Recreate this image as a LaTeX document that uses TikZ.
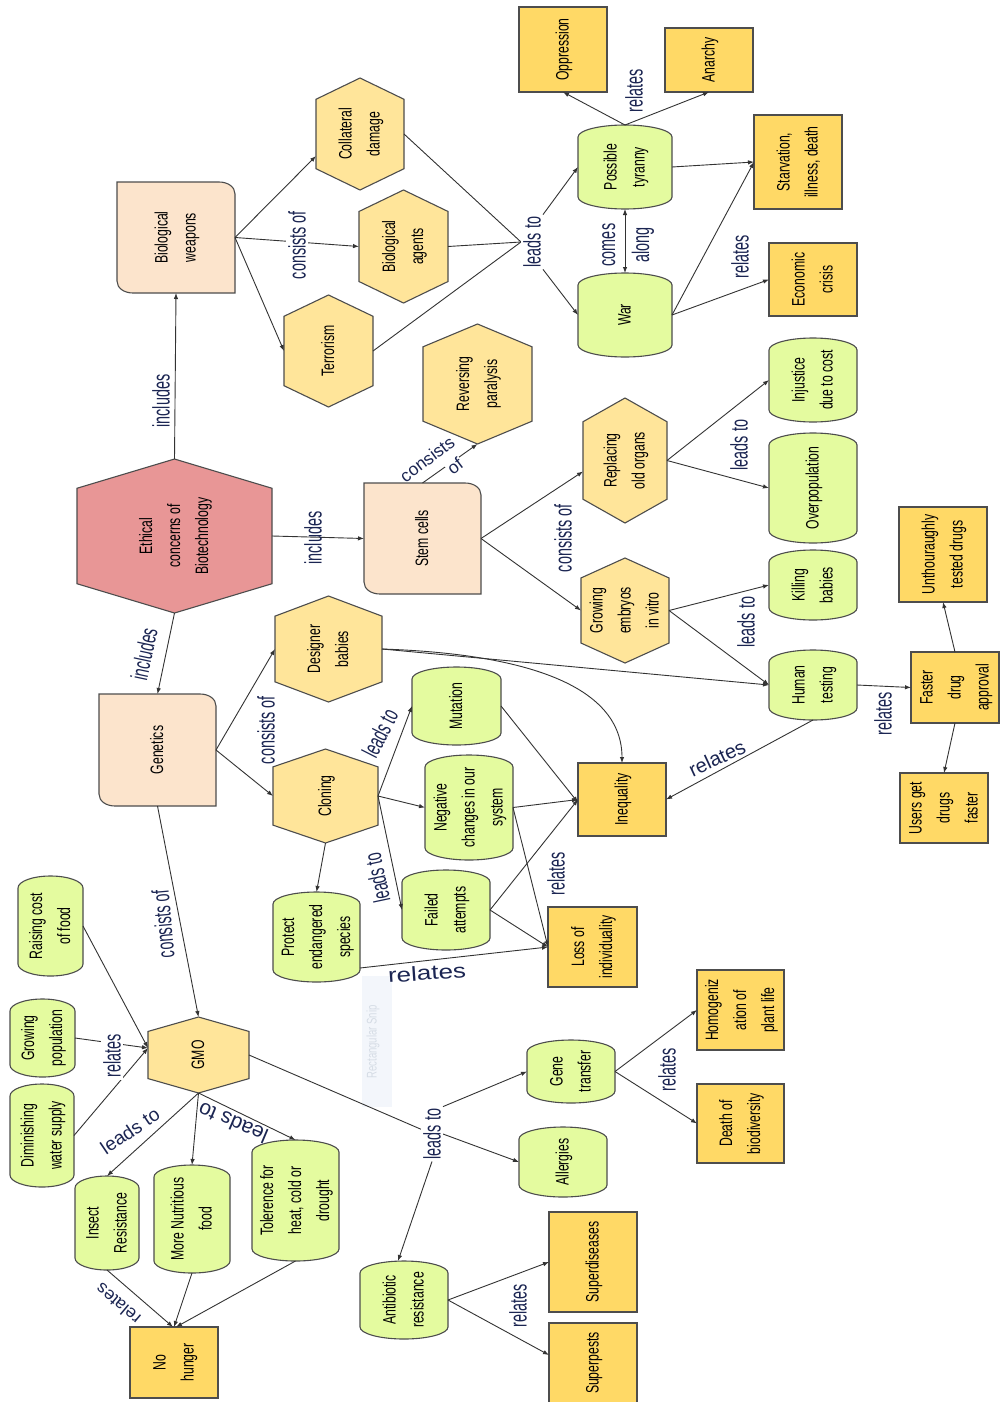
\documentclass[tikz,border=0pt]{standalone}
\usepackage{fontspec}
\usepackage{graphicx}
\usetikzlibrary{arrows.meta,calc}

\newfontfamily\nfont[FakeStretch=0.68]{Liberation Sans}
\newfontfamily\lfont[FakeStretch=0.6]{Liberation Sans}
\newfontfamily\afont{Liberation Sans}

\definecolor{peach}{HTML}{FCE4CC}
\definecolor{pinkc}{HTML}{E89696}
\definecolor{hexc}{HTML}{FFE59A}
\definecolor{goldc}{HTML}{FFD966}
\definecolor{greenc}{HTML}{E4FB9F}
\definecolor{linec}{HTML}{333333}
\definecolor{edgec}{HTML}{4D4D4D}
\definecolor{labc}{HTML}{1B2552}
\definecolor{snipc}{HTML}{F3F6FB}
\definecolor{snipt}{HTML}{D5DCE5}

\pgfdeclarelayer{bg}
\pgfdeclarelayer{lines}
\pgfsetlayers{bg,lines,main}

% vertical (bottom-to-top) multi-line text
\newcommand\vtext[1]{\rotatebox{90}{\begin{tabular}{@{}c@{}}#1\end{tabular}}}

% hexagon: [fill] name cx cy half-width half-height text
\newcommand\hexnode[7][hexc]{%
  \node[nbox, minimum width={2*#5}, minimum height={2*#6}] (#2) at (#3,#4) {\vtext{#7}};
  \pgfmathsetmacro\xa{#3-#5}\pgfmathsetmacro\xb{#3+#5}%
  \pgfmathsetmacro\ya{#4-#6}\pgfmathsetmacro\yb{#4+#6}%
  \pgfmathsetmacro\yc{#4-0.62*#6}\pgfmathsetmacro\yd{#4+0.62*#6}%
  \begin{pgfonlayer}{bg}
  \filldraw[shapeline, fill=#1] (#3,\ya) -- (\xb,\yc) -- (\xb,\yd) -- (#3,\yb) -- (\xa,\yd) -- (\xa,\yc) -- cycle;
  \end{pgfonlayer}}

% box with two rounded corners: name cx cy hw hh text
\newcommand\docnode[6]{%
  \node[nbox, minimum width={2*#4}, minimum height={2*#5}] (#1) at (#2,#3) {\vtext{#6}};
  \pgfmathsetmacro\xa{#2-#4}\pgfmathsetmacro\xb{#2+#4}%
  \pgfmathsetmacro\ya{#3-#5}\pgfmathsetmacro\yb{#3+#5}%
  \begin{pgfonlayer}{bg}
  \filldraw[shapeline, fill=peach] (\xa,\ya) -- ({\xb-16},\ya)
    .. controls ({\xb-7},\ya) and (\xb,{\ya+5}) .. (\xb,{\ya+12}) -- (\xb,\yb) -- ({\xa+16},\yb)
    .. controls ({\xa+7},\yb) and (\xa,{\yb-5}) .. (\xa,{\yb-12}) -- cycle;
  \end{pgfonlayer}}

% plain box: name cx cy hw hh text
\newcommand\goldnode[6]{%
  \node[nbox, minimum width={2*#4}, minimum height={2*#5}] (#1) at (#2,#3) {\vtext{#6}};
  \begin{pgfonlayer}{bg}
  \filldraw[shapeline, fill=goldc] (#1.north west) rectangle (#1.south east);
  \end{pgfonlayer}}

% box with arched ends: name cx cy hw hh text
\newcommand\greennode[6]{%
  \node[nbox, minimum width={2*#4}, minimum height={2*#5}] (#1) at (#2,#3) {\vtext{#6}};
  \pgfmathsetmacro\xa{#2-#4}\pgfmathsetmacro\xb{#2+#4}%
  \pgfmathsetmacro\ya{#3-#5}\pgfmathsetmacro\yb{#3+#5}%
  \pgfmathsetmacro\kx{0.5523*#4}%
  \begin{pgfonlayer}{bg}
  \filldraw[shapeline, fill=greenc]
    (\xa,{\ya+12}) -- (\xa,{\yb-12})
    .. controls (\xa,{\yb-5.4}) and ({#2-\kx},\yb) .. (#2,\yb)
    .. controls ({#2+\kx},\yb) and (\xb,{\yb-5.4}) .. (\xb,{\yb-12})
    -- (\xb,{\ya+12})
    .. controls (\xb,{\ya+5.4}) and ({#2+\kx},\ya) .. (#2,\ya)
    .. controls ({#2-\kx},\ya) and (\xa,{\ya+5.4}) .. (\xa,{\ya+12}) -- cycle;
  \end{pgfonlayer}}

\begin{document}
\begin{tikzpicture}[x=1pt, y=-1pt,
  >={Latex[length=6pt,width=4.5pt]},
  nbox/.style={inner sep=0pt, outer sep=0pt, text=black, font=\nfont\fontsize{18}{28}\selectfont},
  shapeline/.style={draw=edgec, line width=1.1pt},
  conn/.style={draw=linec, line width=0.9pt},
  arr/.style={conn, ->},
  labv/.style={text=labc, inner sep=2pt, font=\lfont\fontsize{24}{30}\selectfont},
  alab/.style={text=labc, inner sep=1pt}]

\useasboundingbox (0,0) rectangle (1001,1402);
\begin{pgfonlayer}{bg}
\fill[white] (0,0) rectangle (1001,1402);
% faint screen-capture remnant
\fill[snipc] (362,976) rectangle (392,1107);
\end{pgfonlayer}
\node[text=snipt, font=\nfont\fontsize{14}{16}\selectfont, inner sep=0pt] (snip) at (373,1042) {\rotatebox{90}{Rectangular Snip}};

% ---------- concepts ----------
\hexnode[pinkc]{eth}{174.5}{536}{97.5}{77}{Ethical\\concerns of\\Biotechnology}

\docnode{bw}{176}{237.5}{59}{55.5}{Biological\\weapons}
\docnode{stem}{422.5}{538.5}{58.5}{55.5}{Stem cells}
\docnode{gen}{157.5}{750}{58.5}{56}{Genetics}

\hexnode{coll}{360}{134}{44}{56}{Collateral\\damage}
\hexnode{bioag}{403.5}{246.5}{44.5}{56.5}{Biological\\agents}
\hexnode{terr}{328.5}{351}{44.5}{56}{Terrorism}
\hexnode{revp}{477.5}{384}{54.5}{60}{Reversing\\paralysis}
\hexnode{organs}{625}{460.5}{42}{62.5}{Replacing\\old organs}
\hexnode{embryo}{625}{610.5}{44}{52.5}{Growing\\embryos\\in vitro}
\hexnode{design}{328.5}{649}{53.5}{53}{Designer\\babies}
\hexnode{clon}{325.5}{796}{52.5}{47}{Cloning}
\hexnode{gmo}{198.5}{1055}{50.5}{38}{GMO}

\goldnode{opp}{563}{49.5}{44}{42.5}{Oppression}
\goldnode{anar}{709}{60}{44}{32}{Anarchy}
\goldnode{starv}{798}{162}{44}{47}{Starvation,\\illness, death}
\goldnode{econ}{813}{279.5}{44}{36.5}{Economic\\crisis}
\goldnode{untest}{943}{554.5}{44}{47.5}{Unthouraughly\\tested drugs}
\goldnode{fda}{955}{687.5}{44}{35.5}{Faster\\drug\\approval}
\goldnode{users}{944}{808}{44}{35}{Users get\\drugs\\faster}
\goldnode{ineq}{622}{799.5}{44}{36.5}{Inequality}
\goldnode{loss}{592.5}{947}{44.5}{40}{Loss of\\individuality}
\goldnode{homog}{740.5}{1010}{43.5}{40}{Homogeniz\\ation of\\plant life}
\goldnode{death}{740.5}{1123.5}{43.5}{39.5}{Death of\\biodiversity}
\goldnode{superd}{593}{1262}{44}{50}{Superdiseases}
\goldnode{nohun}{174}{1362.5}{44}{35.5}{No\\hunger}
% box running off the lower edge
\node[nbox, minimum width=88, minimum height=80] (superp) at (593,1363) {\vtext{Superpests}};
\begin{pgfonlayer}{bg}
\fill[goldc] (549,1323) rectangle (637,1402);
\draw[shapeline] (549,1402) -- (549,1323) -- (637,1323) -- (637,1402);
\end{pgfonlayer}

\greennode{tyr}{625}{167}{47}{42}{Possible\\tyranny}
\greennode{war}{625}{315}{47}{42}{War}
\greennode{injust}{813}{380}{44}{42}{Injustice\\due to cost}
\greennode{overpop}{813}{488}{44}{55}{Overpopulation}
\greennode{kill}{813}{585}{44}{35}{Killing\\babies}
\greennode{human}{813}{685}{44}{35}{Human\\testing}
\greennode{mut}{456.5}{706}{44.5}{39}{Mutation}
\greennode{neg}{469}{807.5}{44}{52.5}{Negative\\changes in our\\system}
\greennode{fail}{446}{910}{44}{40}{Failed\\attempts}
\greennode{prot}{316.5}{937}{43.5}{45}{Protect\\endangered\\species}
\greennode{raise}{50.5}{926}{32.5}{50}{Raising cost\\of food}
\greennode{grow}{42.5}{1038}{32.5}{39}{Growing\\population}
\greennode{dimin}{42}{1135.5}{32}{51.5}{Diminishing\\water supply}
\greennode{insect}{107}{1223}{32}{47}{Insect\\Resistance}
\greennode{nutri}{192}{1219}{38}{54}{More Nutritious\\food}
\greennode{toler}{295.5}{1200.5}{43.5}{60.5}{Tolerence for\\heat, cold or\\drought}
\greennode{antib}{404}{1300}{44}{39}{Antibiotic\\resistance}
\greennode{gene}{571}{1071.5}{44}{31.5}{Gene\\transfer}
\greennode{allerg}{563}{1162}{44}{35}{Allergies}

% ---------- linking phrases ----------
\node[labv] (l1) at (161,401) {\rotatebox{90}{includes}};
\node[labv, fill=white] (l2) at (297,245) {\rotatebox{90}{consists of}};
\node[labv, fill=white] (lt1) at (532,242) {\rotatebox{90}{leads to}};
\node[labv] (l4) at (634,91) {\rotatebox{90}{relates}};
\node[labv] (l5) at (626,245) {\rotatebox{90}{\begin{tabular}{@{}c@{}}comes\\[4pt]along\end{tabular}}};
\node[labv] (l6) at (740,257) {\rotatebox{90}{relates}};
\node[labv] (l7) at (313,538) {\rotatebox{90}{includes}};
\node[labv] (l8) at (563,538) {\rotatebox{90}{consists of}};
\node[labv] (l9) at (739,445) {\rotatebox{90}{leads to}};
\node[labv] (l10) at (746,622) {\rotatebox{90}{leads to}};
\node[labv] (l11) at (883,714) {\rotatebox{90}{relates}};
\node[labv] (l12) at (266,730) {\rotatebox{90}{consists of}};
\node[labv] (l13) at (556,874) {\rotatebox{90}{relates}};
\node[labv, fill=white] (l14) at (112,1056) {\rotatebox{90}{relates}};
\node[labv, fill=white] (ltg) at (432,1134) {\rotatebox{90}{leads to}};
\node[labv] (l16) at (667,1070) {\rotatebox{90}{relates}};
\node[labv] (l17) at (518,1306) {\rotatebox{90}{relates}};
\node[labv, rotate=78] (l18) at (144,654) {includes};
\node[labv, rotate=95] (l19) at (163,924) {consists of};
\node[labv, rotate=63] (l20) at (380,733) {leads to};
\node[labv, rotate=102] (l21) at (377,878) {leads to};
\node[alab, rotate=25, font=\afont\fontsize{20}{24}\selectfont] (l22) at (717,758) {relates};
\node[alab, rotate=34, font=\afont\fontsize{19}{23}\selectfont] (l23) at (130,1131) {leads to};
\node[alab, rotate=157, font=\afont\fontsize{21}{25}\selectfont] (l24) at (233,1123) {leads to};
\node[alab, rotate=140, font=\afont\fontsize{17.5}{21}\selectfont] (l25) at (118,1304) {relates};
\node[alab, rotate=37, font=\afont\fontsize{17.5}{21}\selectfont] (l26a) at (427,459) {consists};
\node[alab, rotate=37, fill=white, font=\afont\fontsize{17.5}{21}\selectfont] (l26b) at (455,466) {of};
\node[alab, rotate=4, font=\afont\fontsize{26}{30}\selectfont] (l27) at (427,973) {\scalebox{1}[0.78]{relates}};

% ---------- connectors ----------
\begin{pgfonlayer}{lines}
\draw[arr] (eth.north) -- (bw.south);
\draw[arr] (bw.east) -- ($(coll.west)+(0,22)$);
\draw[arr] (bw.east) -- (bioag.west);
\draw[arr] (bw.east) -- (terr.west);
\draw[conn] (coll.east) -- (lt1.west);
\draw[conn] (bioag.east) -- (lt1.west);
\draw[conn] (terr.east) -- (lt1.west);
\draw[arr] (lt1.north east) -- (tyr.west);
\draw[arr] (lt1.south east) -- (war.west);
\draw[arr] (tyr.north) -- (opp.south);
\draw[arr] (tyr.north) -- (anar.south);
\draw[conn, <->] (tyr.south) -- (war.north);
\draw[arr] (tyr.east) -- (starv.west);
\draw[arr] (war.east) -- (starv.west);
\draw[arr] (war.east) -- (econ.west);

\draw[arr] (eth.east) -- (stem.west);
\draw[arr] (stem.north) -- (revp.south);
\draw[arr] (stem.east) -- ($(organs.west)+(0,11)$);
\draw[arr] (stem.east) -- (embryo.west);
\draw[arr] (organs.east) -- (injust.west);
\draw[arr] (organs.east) -- (overpop.west);
\draw[arr] (embryo.east) -- (kill.west);
\draw[arr] (embryo.east) -- (human.west);
\draw[arr] (human.east) -- (fda.west);
\draw[arr] (fda.north) -- (untest.south);
\draw[arr] (fda.south) -- (users.north);
\draw[arr] (human.south) -- (ineq.east);

\draw[arr] (eth.south) -- (gen.north);
\draw[arr] (gen.east) -- (design.west);
\draw[arr] (gen.east) -- (clon.west);
\draw[arr] (design.east) -- (human.west);
\draw[arr] (design.east) .. controls +(150,5) and +(0,-75) .. (ineq.north);
\draw[arr] (clon.east) -- (mut.west);
\draw[arr] (clon.east) -- (neg.west);
\draw[arr] (clon.east) -- (fail.west);
\draw[arr] (clon.south) -- (prot.north);
\draw[arr] (mut.east) -- ($(ineq.west)+(0,3)$);
\draw[arr] (neg.east) -- (ineq.west);
\draw[arr] (fail.east) -- (ineq.west);
\draw[arr] (neg.east) -- (loss.west);
\draw[arr] (fail.east) -- (loss.west);
\draw[arr] ($(prot.east)+(0,31)$) -- (loss.west);

\draw[arr] (gen.south) -- (gmo.north);
\draw[arr] (raise.east) -- ($(gmo.west)+(0,-7)$);
\draw[arr] (grow.east) -- ($(gmo.west)+(0,-7)$);
\draw[arr] (dimin.east) -- ($(gmo.west)+(0,-7)$);
\draw[arr] (gmo.south) -- (insect.north);
\draw[arr] (gmo.south) -- (nutri.north);
\draw[arr] (gmo.south) -- (toler.north);
\draw[arr] (insect.south) -- ($(nohun.north)+(-1,0)$);
\draw[arr] (nutri.south) -- (nohun.north);
\draw[arr] (toler.south) -- ($(nohun.north)+(2,0)$);
\draw[conn] (gmo.east) -- (ltg);
\draw[arr] (ltg.north east) -- (gene.west);
\draw[arr] (ltg.east) -- (allerg.west);
\draw[arr] (ltg.south) -- ($(antib.north)+(-6,0)$);
\draw[arr] (gene.east) -- (homog.west);
\draw[arr] (gene.east) -- (death.west);
\draw[arr] (antib.east) -- (superd.west);
\draw[arr] (antib.east) -- ($(superp.west)+(0,-8)$);
\end{pgfonlayer}
\end{tikzpicture}
\end{document}
